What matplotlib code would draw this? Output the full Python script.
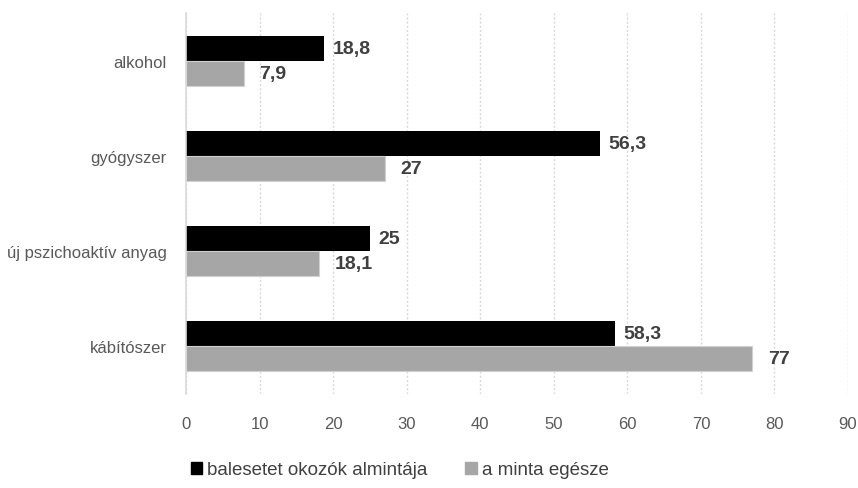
import numpy as np
import matplotlib.pyplot as plt
from matplotlib.patches import Patch

categories = ["alkohol", "gyógyszer", "új pszichoaktív anyag", "kábítószer"]
subsample = [18.8, 56.3, 25, 58.3]
whole = [7.9, 27, 18.1, 77]
series_names = ["balesetet okozók almintája", "a minta egésze"]

plt.rcParams['font.family'] = ['Liberation Sans Narrow', 'Liberation Sans', 'DejaVu Sans']

fig = plt.figure(figsize=(8.58, 4.89), dpi=100)
ax = fig.add_axes([186/858, 1-395/489, (848-186)/858, (395-14)/489])

y = np.arange(len(categories))
h = 0.263
c1, c2 = "#000000", "#A6A6A6"
ax.barh(y - h/2, subsample, height=h, color=c1, zorder=3)
ax.barh(y + h/2, whole, height=h, color=c2, edgecolor="#d0d0d0", linewidth=0.8, zorder=3)

def fmt(v):
    return ("%g" % v).replace(".", ",")

for i in range(len(categories)):
    ax.annotate(fmt(subsample[i]), (subsample[i], y[i] - h/2), xytext=(6, 0),
                textcoords="offset points", va="center", ha="left",
                fontsize=14, fontweight="bold", color="#404040")
    ax.annotate(fmt(whole[i]), (whole[i], y[i] + h/2), xytext=(11, 0),
                textcoords="offset points", va="center", ha="left",
                fontsize=14, fontweight="bold", color="#404040")

ax.set_xlim(0, 90)
ax.set_ylim(len(categories) - 0.5, -0.5)
ax.set_xticks(np.arange(0, 91, 10))
ax.set_yticks(y)
ax.set_yticklabels(categories)
ax.tick_params(axis="both", length=0, labelsize=12, colors="#595959")
ax.tick_params(axis="x", pad=16)
ax.tick_params(axis="y", pad=14)
ax.grid(axis="x", linestyle=(0, (1.5, 1.5)), color="#d9d9d9", linewidth=1, zorder=0)
for s in ["top", "right", "bottom"]:
    ax.spines[s].set_visible(False)
ax.spines["left"].set_color("#d9d9d9")
ax.spines["left"].set_linewidth(1.2)
ax.spines["left"].set_zorder(4)

handles = [Patch(color=c1), Patch(color=c2)]
fig.legend(handles, series_names, loc="center", bbox_to_anchor=(0.466, 1-471/489),
           ncol=2, frameon=False, fontsize=13.5, handlelength=0.6, handleheight=0.6,
           handletextpad=0.3, columnspacing=2.0, labelcolor="#404040")

fig.savefig("out.png", dpi=100)
